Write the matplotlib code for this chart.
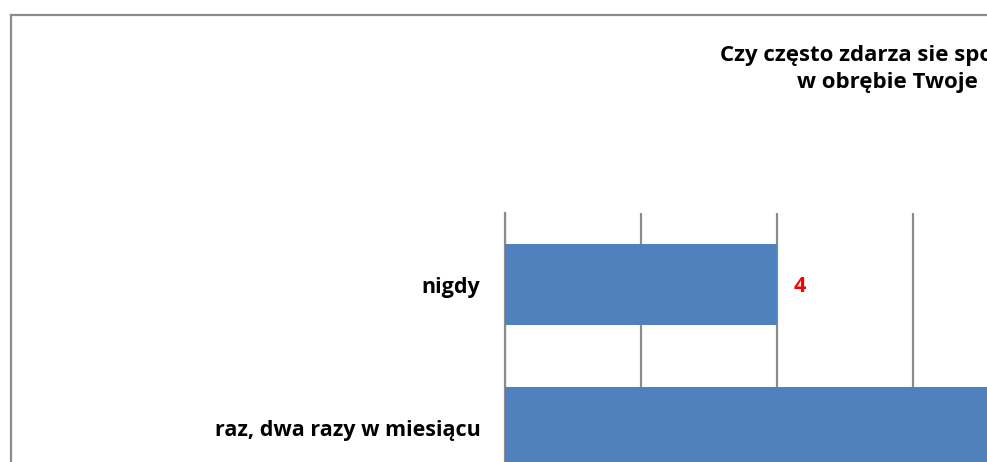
import matplotlib
matplotlib.use('Agg')
import matplotlib.pyplot as plt
from matplotlib.lines import Line2D

plt.rcParams['font.family'] = ['Open Sans', 'DejaVu Sans']

# dane (widoczny fragment wykresu)
kategorie = ['nigdy', 'raz, dwa razy w miesiącu']
wartosci = [4, 10]
etykiety = ['4', '10']
tytul_1 = 'Czy często zdarza sie spo'
tytul_2 = 'w obrębie Twoje'

W, H = 987, 462
fig = plt.figure(figsize=((W + 0.5) / 100, (H + 0.5) / 100), dpi=100)

# ramka wykresu: widać tylko górną i lewą krawędź
fy = 1 - 15.5 / H
fx = 11 / W
fig.add_artist(Line2D([fx, 1.0], [fy, fy], transform=fig.transFigure,
                      color='#8c8c8c', linewidth=1.6))
fig.add_artist(Line2D([fx, fx], [0.0, fy], transform=fig.transFigure,
                      color='#8c8c8c', linewidth=1.6))

# obszar osi w pikselach: lewa krawędź 505, góra 213, 143 px na kategorię
px_unit = 68
xmax = 10
left, top, step = 505, 213, 143
ax = fig.add_axes([left / W, (H - top - step * len(kategorie)) / H,
                   px_unit * xmax / W, step * len(kategorie) / H])
ax.set_xlim(0, xmax)
ax.set_ylim(len(kategorie) - 0.5, -0.5)

y = range(len(kategorie))
ax.barh(y, wartosci, height=0.566, color='#4f81bd', zorder=3)
for i, (v, t) in enumerate(zip(wartosci, etykiety)):
    ax.text(v + 0.24, i + 0.01, t, color='#ff0000', fontsize=15.5, fontweight='bold',
            ha='left', va='center', zorder=4, clip_on=True)

ax.set_xticks(range(0, xmax + 1, 2))
ax.xaxis.grid(True, color='#8c8c8c', linewidth=1.6, zorder=0)
ax.tick_params(axis='x', length=0, labelbottom=False)
ax.set_yticks(list(y))
ax.set_yticklabels(kategorie, fontsize=15.5, fontweight='bold')
ax.tick_params(axis='y', length=0, pad=18)
for s in ['top', 'right', 'bottom']:
    ax.spines[s].set_visible(False)
ax.spines['left'].set_color('#8c8c8c')
ax.spines['left'].set_linewidth(1.6)
ax.set_facecolor('none')

fig.text(720 / W, 1 - 55 / H, tytul_1, fontsize=16, fontweight='bold', ha='left', va='center')
fig.text(797 / W, 1 - 82 / H, tytul_2, fontsize=16, fontweight='bold', ha='left', va='center')

fig.savefig('out.png', dpi=100)
